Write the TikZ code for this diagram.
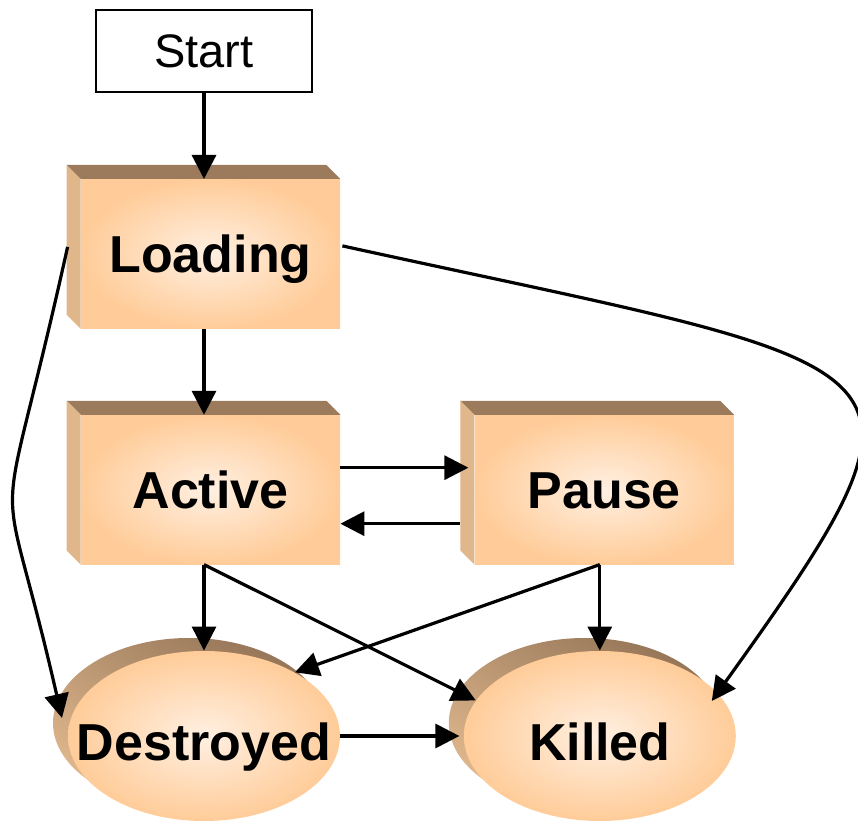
\documentclass[tikz,border=0pt]{standalone}
\usepackage{fontspec}
\setmainfont{Liberation Sans}
\usetikzlibrary{positioning, arrows.meta, shapes.geometric, shadows}

\definecolor{facefront}{RGB}{255,204,153}
\definecolor{faceglow}{RGB}{255,240,226}
\definecolor{facetop}{RGB}{155,123,92}
\definecolor{faceside}{RGB}{224,182,139}
\definecolor{ovaldark}{RGB}{150,118,88}
\definecolor{ovallight}{RGB}{224,184,142}

% top and left faces that make a state box look raised
\newcommand\boxbevel[1]{%
  \fill[facetop] (#1.north west) -- ++(-14,-14) -- ([shift={(-14,-14)}]#1.north east) -- (#1.north east) -- cycle;
  \fill[faceside] (#1.north west) -- ++(-14,-14) -- ([shift={(-14,-14)}]#1.south west) -- (#1.south west) -- cycle;
}

\begin{document}
\begin{tikzpicture}[
      x=0.5pt, y=-0.5pt,
      node distance=43pt and 67pt,
      font=\bfseries\fontsize{26}{30}\selectfont,
      startbox/.style={draw, line width=1pt, fill=white, minimum width=108pt, minimum height=41pt, inner sep=0pt, font=\mdseries\fontsize{23.5}{28}\selectfont},
      state/.style={rectangle, inner sep=0pt, minimum width=129.5pt, minimum height=74.5pt, inner color=faceglow, outer color=facefront, text height=18.7pt, text depth=0pt},
      ending/.style={ellipse, inner xsep=-16pt, inner ysep=0pt, minimum width=136pt, minimum height=85pt, inner color=faceglow, outer color=facefront, text height=24.7pt, text depth=0pt,
        general shadow={shadow xshift=-7.5pt, shadow yshift=6.5pt, top color=ovaldark, bottom color=ovallight, shading angle=-30}},
      arr/.style={-{Triangle[length=12pt,width=12pt]}, line width=1.6pt},
    ]
    \useasboundingbox (0,0) rectangle (858,823);

    \node[startbox] (start) at (204,51) {Start};
    \node[state, below=of start, xshift=3.25pt] (loading) {Loading};
    \node[state, below=of loading] (active) {Active};
    \node[state, right=of active] (pause) {Pause};
    \node[ending, below=of active, xshift=-3.25pt] (destroyed) {Destroyed};
    \node[ending, right=61.5pt of destroyed] (killed) {Killed};

    \boxbevel{loading}
    \boxbevel{active}
    \boxbevel{pause}

    \draw[arr] (start.south) -- (start.south |- loading.north);
    \draw[arr] (start.south |- loading.south) -- (start.south |- active.north);
    \draw[arr] ([yshift=11pt]active.east) -- ([xshift=-3pt, yshift=11pt]pause.west);
    \draw[arr] ([xshift=-7pt, yshift=-17pt]pause.west) -- ([yshift=-17pt]active.east);
    \draw[arr] (destroyed.north |- active.south) -- (destroyed.north);
    \draw[arr] (destroyed.north |- active.south) -- (killed.164);
    \draw[arr] (killed.north |- pause.south) -- (killed.north);
    \draw[arr] (killed.north |- pause.south) -- (destroyed.35);
    \draw[arr, shorten >=2pt] (destroyed) -- (killed);

    % the two long bends out of Loading
    \draw[arr] ([shift={(-13,-7)}]loading.west) .. controls (-5,575) and (-3,434) .. ([shift={(-142,-18)}]destroyed.center);
    \draw[arr] ([shift={(2,-8)}]loading.east) .. controls (922,373) and (964,349) .. ([shift={(112,-35)}]killed.center);
  \end{tikzpicture}
\end{document}
